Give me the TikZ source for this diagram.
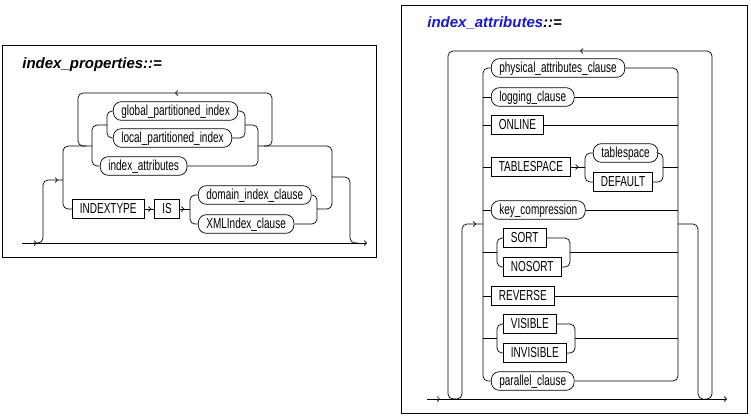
\documentclass[tikz,border=0pt]{standalone}
\usepackage{fontspec}
\setmainfont{Liberation Sans}
\newfontfamily\railfont[FakeStretch=0.69]{Liberation Sans}
\usetikzlibrary{positioning, arrows.meta, decorations.markings}
\definecolor{ttlblue}{RGB}{25,25,205}

\begin{document}
\begin{tikzpicture} [x = 1pt, y = -1pt, >= {Straight Barb[length=2.5pt, width=5pt]}, line width = 0.7pt, rounded corners = 5pt,
        nterm/.style = {draw, rounded corners = 8pt, inner xsep = 8pt, inner ysep = 3.3pt, text height = 10.4pt, text depth = 1.6pt, font = \railfont\fontsize{14.5}{15}\selectfont},
        kword/.style = {nterm, sharp corners, inner xsep = 7.5pt},
        ttl/.style = {anchor = west, inner sep = 0pt, font = \fontsize{15}{18}\selectfont\bfseries\itshape},
        arr/.style = {postaction = {decorate}, decoration = {markings, mark = at position #1 with {\arrow{>}}}}]
        \useasboundingbox (0,0) rectangle (751,418);

        % index_properties
        \draw [sharp corners, line width = 0.8pt] (2,45) rectangle (376,257);
        \node [ttl] (ttlp) at (22,65) {index\_properties::=};

        \node [nterm, anchor = west] (gpi) at (113,111) {global\_partitioned\_index};
        \node [nterm, anchor = west] (lpi) at (113,138) {local\_partitioned\_index};
        \node [nterm, anchor = west] (iattr) at (100,166) {index\_attributes};
        \node [kword, anchor = west] (ityp) at (72,209) {INDEXTYPE};
        \node [kword] (is) [right = 10pt of ityp] {IS};
        \node [nterm, anchor = west] (dic) at (198,195) {domain\_index\_clause};
        \node [nterm, anchor = west] (xic) at (198,224) {XMLIndex\_clause};

        \coordinate (ls) at (22,243);
        \coordinate (le) at (367,243);
        \coordinate (ra) at (63,180);
        \coordinate (rb) at (92,146);
        \coordinate (rc) at (107,125);
        \coordinate (rd) at (245,125);
        \coordinate (re) at (258,146);
        \coordinate (rf) at (332,177);
        \coordinate (rg) at (190,209);
        \coordinate (rh) at (317,209);
        \coordinate (lpa) at (272,93);
        \coordinate (lpb) at (78,93);

        \draw [->, arr = 15pt] (ls) -- (le);
        \draw [arr = -5pt] ([xshift = 11pt] ls) -| ([xshift = -20pt] ra) -- (ra);
        \draw (rb) -| (ra) |- (ityp.west);
        \draw [arr = 0.5] ([xshift = 6pt] re) -| (lpa) -- (lpb) |- ([xshift = -6pt] rb);
        \draw (rc) -| (rb) |- (iattr.west);
        \draw (gpi.west) -| (rc) |- (lpi.west);
        \draw (gpi.east) -| (rd) |- (lpi.east);
        \draw (iattr.east) -| (re) |- (rd);
        \draw (re) -| (rf) |- (rh);
        \draw (rf) -| ([xshift = -17pt] le) -- ([xshift = -9pt] le);
        \draw [arr = 0.7] (ityp.east) -- (is.west);
        \draw [arr = 0.45] (is.east) -- (rg);
        \draw (dic.west) -| (rg) |- (xic.west);
        \draw (dic.east) -| (rh) |- (xic.east);

        % index_attributes
        \draw [sharp corners, line width = 0.8pt] (401,5) rectangle (747,413);
        \node [ttl] (ttla) at (427,23) {{\color{ttlblue}index\_attributes}::=};

        \node [nterm, anchor = west] (phys) at (491,68) {physical\_attributes\_clause};
        \node [nterm, anchor = west] (logc) at (491,97) {logging\_clause};
        \node [kword, anchor = west] (onl) at (491,125) {ONLINE};
        \node [kword, anchor = west] (tbsp) at (491,167) {TABLESPACE};
        \node [nterm, anchor = west] (tspc) at (593,153) {tablespace};
        \node [kword, anchor = west] (dflt) at (593,182) {DEFAULT};
        \node [nterm, anchor = west] (keyc) at (491,210) {key\_compression};
        \node [kword, anchor = west] (srt) at (503,238) {SORT};
        \node [kword, anchor = west] (nosrt) at (503,267) {NOSORT};
        \node [kword, anchor = west] (rev) at (491,296) {REVERSE};
        \node [kword, anchor = west] (vis) at (503,324) {VISIBLE};
        \node [kword, anchor = west] (invis) at (503,353) {INVISIBLE};
        \node [nterm, anchor = west] (parc) at (491,381) {parallel\_clause};

        \coordinate (rs) at (427,399);
        \coordinate (rt) at (727,399);
        \coordinate (ein) at (483,224);
        \coordinate (eout) at (678,224);
        \coordinate (tl) at (585,167);
        \coordinate (tr) at (663,167);
        \coordinate (sl) at (497,252);
        \coordinate (sr) at (570,252);
        \coordinate (vl) at (497,338);
        \coordinate (vr) at (575,338);
        \coordinate (lqa) at (712,51);
        \coordinate (lqb) at (448,51);

        \draw [->, arr = 13pt] (rs) -- (rt);
        \draw [arr = -7pt] ([xshift = 25pt] rs) -| ([xshift = -21pt] ein) -- (ein);
        \draw [arr = 0.5] ([xshift = -22pt] rt) -| (lqa) -- (lqb) |- ([xshift = 28pt] rs);
        \draw (eout) -| ([xshift = -29pt] rt) -- ([xshift = -24pt] rt);
        \draw (phys.west) -| (ein) |- (parc.west);
        \draw (phys.east) -| (eout) |- (parc.east);

        \draw (logc.west -| ein) -- (logc.west);
        \draw (logc.east) -- (logc.east -| eout);
        \draw (onl.west -| ein) -- (onl.west);
        \draw (onl.east) -- (onl.east -| eout);
        \draw (tbsp.west -| ein) -- (tbsp.west);
        \draw [arr = 0.55] (tbsp.east) -- (tl);
        \draw (tspc.west) -| (tl) |- (dflt.west);
        \draw (tspc.east) -| (tr) |- (dflt.east);
        \draw (tr) -- (tr -| eout);
        \draw (keyc.west -| ein) -- (keyc.west);
        \draw (keyc.east) -- (keyc.east -| eout);
        \draw (sl -| ein) -- (sl);
        \draw (srt.west) -| (sl) |- (nosrt.west);
        \draw (srt.east) -| (sr) |- (nosrt.east);
        \draw (sr) -- (sr -| eout);
        \draw (rev.west -| ein) -- (rev.west);
        \draw (rev.east) -- (rev.east -| eout);
        \draw (vl -| ein) -- (vl);
        \draw (vis.west) -| (vl) |- (invis.west);
        \draw (vis.east) -| (vr) |- (invis.east);
        \draw (vr) -- (vr -| eout);

    \end{tikzpicture}
\end{document}
